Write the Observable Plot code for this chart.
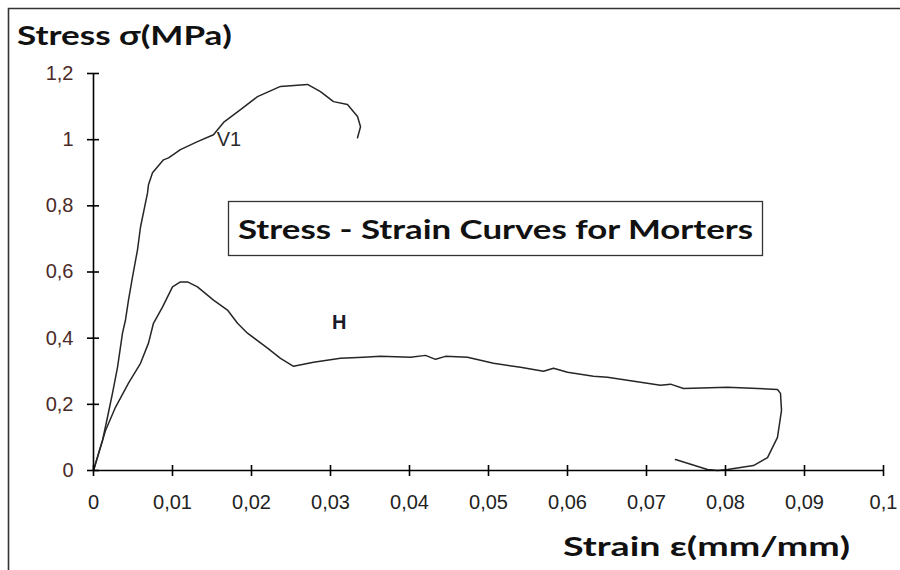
<!DOCTYPE html>
<html>
<head>
<meta charset="utf-8">
<script src="https://cdn.jsdelivr.net/npm/d3@7"></script>
<script src="https://cdn.jsdelivr.net/npm/@observablehq/plot@0.6"></script>
<style>
  html, body { margin: 0; padding: 0; background: #fff; }
  #chart { width: 900px; height: 570px; }
</style>
</head>
<body>
<div id="chart"></div>
<script>
// ---- data (strain mm/mm, stress MPa) ----
const v1Strain = [0, 0.00114, 0.00177, 0.0024, 0.00304, 0.00367, 0.00405, 0.00443, 0.00494, 0.00557, 0.00595, 0.00684, 0.00696, 0.00747, 0.00886, 0.0095, 0.011, 0.01316, 0.01519, 0.01646, 0.01861, 0.02076, 0.02367, 0.02709, 0.02873, 0.03038, 0.03215, 0.03342, 0.0338, 0.03342];
const v1Stress = [0, 0.091, 0.161, 0.233, 0.312, 0.415, 0.455, 0.515, 0.585, 0.667, 0.736, 0.839, 0.864, 0.9, 0.939, 0.945, 0.97, 0.994, 1.015, 1.052, 1.091, 1.13, 1.161, 1.167, 1.145, 1.115, 1.106, 1.07, 1.039, 1.006];

const hStrain = [0, 0.00152, 0.00278, 0.00443, 0.00595, 0.00696, 0.00759, 0.00873, 0.01, 0.011, 0.0119, 0.01316, 0.01519, 0.01696, 0.01823, 0.01949, 0.02203, 0.02367, 0.02532, 0.02785, 0.03127, 0.03418, 0.03633, 0.04013, 0.04203, 0.04329, 0.04456, 0.04734, 0.05063, 0.05405, 0.05696, 0.05823, 0.06, 0.06329, 0.06506, 0.07177, 0.07304, 0.07468, 0.08025, 0.08658, 0.08696, 0.08709, 0.08658, 0.08532, 0.08354, 0.08025, 0.079, 0.07772, 0.07367];
const hStress = [0, 0.121, 0.191, 0.264, 0.324, 0.385, 0.445, 0.494, 0.555, 0.57, 0.57, 0.555, 0.515, 0.485, 0.445, 0.415, 0.37, 0.339, 0.315, 0.327, 0.339, 0.342, 0.345, 0.342, 0.348, 0.336, 0.345, 0.342, 0.324, 0.312, 0.3, 0.309, 0.297, 0.285, 0.282, 0.258, 0.261, 0.248, 0.252, 0.245, 0.233, 0.182, 0.1, 0.039, 0.015, 0.003, 0.0, 0.003, 0.033];

const xTicks = [0, 0.01, 0.02, 0.03, 0.04, 0.05, 0.06, 0.07, 0.08, 0.09, 0.1];
const xTickLabels = ["0", "0,01", "0,02", "0,03", "0,04", "0,05", "0,06", "0,07", "0,08", "0,09", "0,1"];
const yTicks = [0, 0.2, 0.4, 0.6, 0.8, 1, 1.2];
const yTickLabels = ["0", "0,2", "0,4", "0,6", "0,8", "1", "1,2"];

const v1Label = [{name: "V1", strain: 0.0156, stress: 1.0}];
const hLabel = [{name: "H", strain: 0.0302, stress: 0.448}];

const titleText = "Stress - Strain Curves for Morters";
const yTitle = "Stress σ(MPa)";
const xTitle = "Strain ε(mm/mm)";

// ---- build ----
const v1 = v1Strain.map((x, i) => ({x, y: v1Stress[i]}));
const h = hStrain.map((x, i) => ({x, y: hStress[i]}));

const tickFont = "'Liberation Sans', Arial, sans-serif";
const headFont = "Lato, 'Open Sans', sans-serif";

const chart = Plot.plot({
  width: 900,
  height: 570,
  marginLeft: 93,
  marginRight: 17,
  marginTop: 73,
  marginBottom: 100,
  style: {background: "#fff", fontFamily: tickFont},
  x: {domain: [0, 0.1]},
  y: {domain: [0, 1.2]},
  marks: [
    Plot.line(h, {x: "x", y: "y", stroke: "#262626", strokeWidth: 1.5, curve: "linear"}),
    Plot.line(v1, {x: "x", y: "y", stroke: "#262626", strokeWidth: 1.5, curve: "linear"}),
    Plot.ruleY([0], {x1: 0, x2: 0.1, stroke: "#000", strokeWidth: 1.6}),
    Plot.ruleX([0], {y1: 0, y2: 1.2, stroke: "#000", strokeWidth: 1.6}),
    Plot.axisX({
      ticks: xTicks, tickSize: 11, dy: -5, stroke: "#000", strokeWidth: 1.6,
      tickFormat: () => "", label: null
    }),
    Plot.axisY({
      ticks: yTicks, tickSize: 12, dx: 6, stroke: "#000", strokeWidth: 1.6,
      tickFormat: () => "", label: null
    }),
    Plot.text(xTicks, {
      x: d => d, y: 0, text: d => xTickLabels[xTicks.indexOf(d)],
      dy: 32, fontSize: 20, fill: "#222", textAnchor: "middle"
    }),
    Plot.text(yTicks, {
      x: 0, y: d => d, text: d => yTickLabels[yTicks.indexOf(d)],
      dx: -20, fontSize: 20, fill: "#4a2a28", textAnchor: "end"
    }),
    Plot.text(v1Label, {
      x: "strain", y: "stress", text: "name", fontSize: 20, fill: "#2a2a2a", textAnchor: "start"
    }),
    Plot.text(hLabel, {
      x: "strain", y: "stress", text: "name", fontSize: 20, fontWeight: "bold", fill: "#1a1a2a", textAnchor: "start"
    })
  ]
});

document.getElementById("chart").appendChild(chart);

// ---- decorations (frame, titles, boxed title) ----
const svg = d3.select(chart);
svg.append("path")
  .attr("d", "M8.5,570 V8.5 H900")
  .attr("fill", "none").attr("stroke", "#333").attr("stroke-width", 1.6);

svg.append("text")
  .attr("x", 17).attr("y", 45)
  .attr("text-anchor", "start")
  .attr("font-family", headFont).attr("font-weight", "bold").attr("font-size", 27)
  .attr("fill", "#111")
  .attr("textLength", 215).attr("lengthAdjust", "spacingAndGlyphs")
  .text(yTitle);

svg.append("text")
  .attr("x", 563).attr("y", 556)
  .attr("text-anchor", "start")
  .attr("font-family", headFont).attr("font-weight", "bold").attr("font-size", 27)
  .attr("fill", "#111")
  .attr("textLength", 287).attr("lengthAdjust", "spacingAndGlyphs")
  .text(xTitle);

svg.append("rect")
  .attr("x", 228.5).attr("y", 201.5).attr("width", 534).attr("height", 54)
  .attr("fill", "#fff").attr("stroke", "#333").attr("stroke-width", 1.3);

svg.append("text")
  .attr("x", 238).attr("y", 239)
  .attr("text-anchor", "start")
  .attr("font-family", headFont).attr("font-weight", "bold").attr("font-size", 27)
  .attr("fill", "#111")
  .attr("textLength", 515).attr("lengthAdjust", "spacingAndGlyphs")
  .text(titleText);
</script>
</body>
</html>
